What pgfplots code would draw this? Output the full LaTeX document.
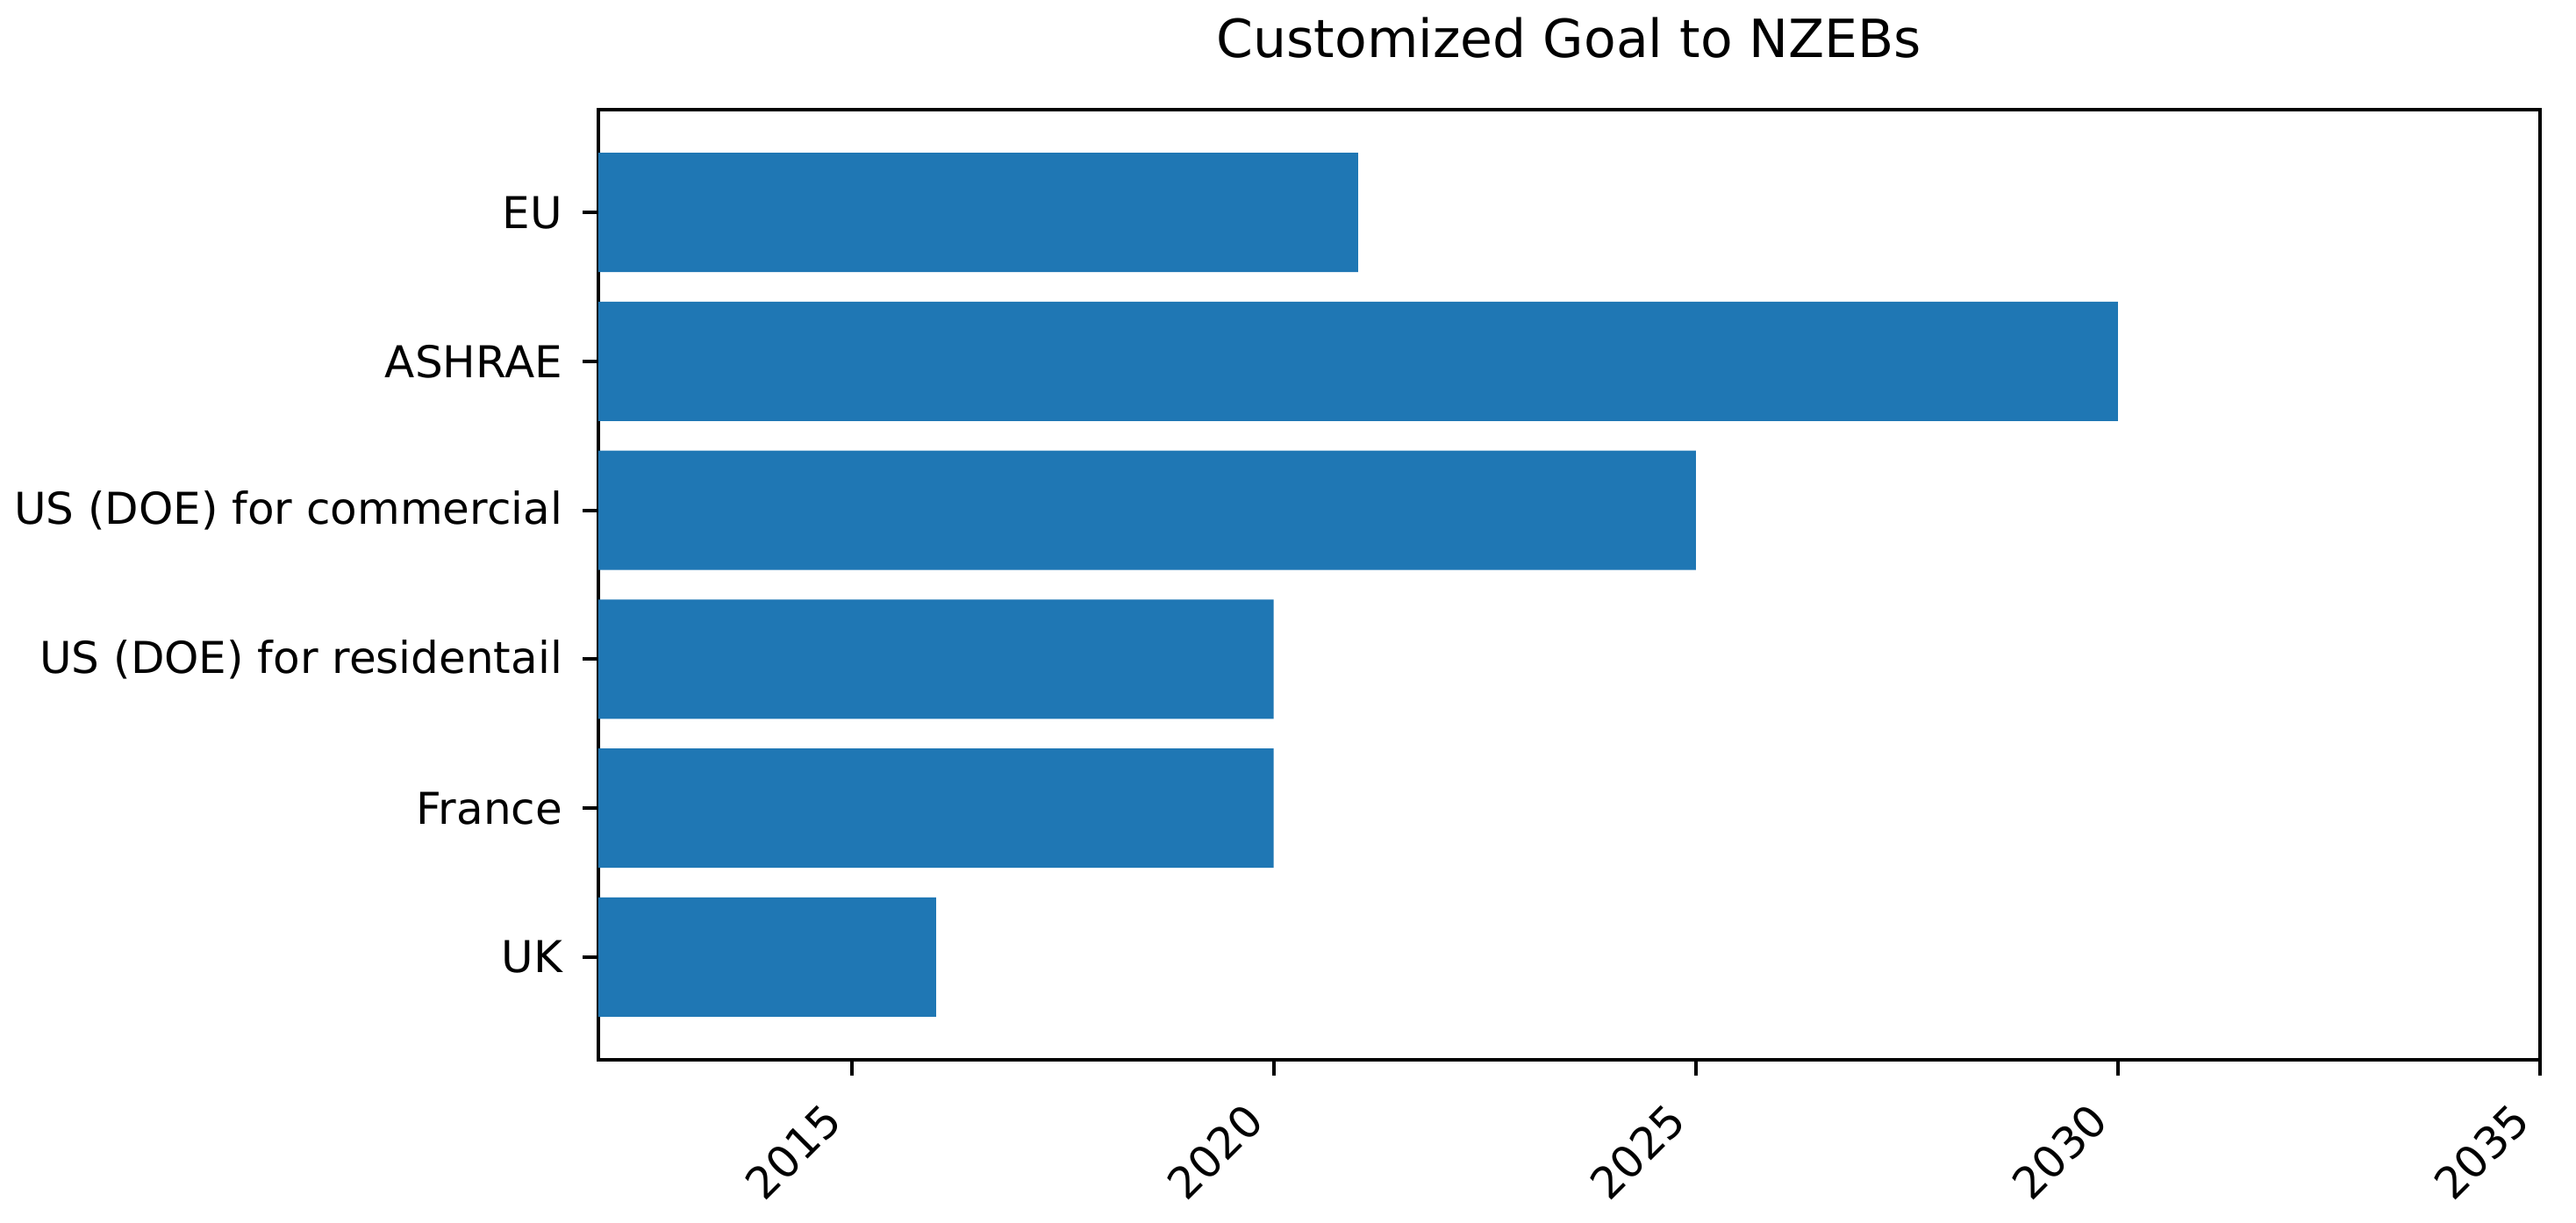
\documentclass[border=0pt]{standalone}
\usepackage{fontspec}
\setmainfont{DejaVu Sans}
\usepackage{pgfplots}
\usepackage{pgfplotstable}
\pgfplotsset{compat=1.18}
\definecolor{mplblue}{HTML}{1F77B4}
\pgfplotstableread{
pos year
0 2016
1 2020
2 2020
3 2025
4 2030
5 2021
}\goals
\begin{document}
\begin{tikzpicture}
\useasboundingbox (-136.4pt,-37.2pt) rectangle (450.8pt,241.6pt);
\begin{axis}[
  at={(0,0)}, anchor=south west,
  scale only axis, width=442.6pt, height=216.6pt,
  xmin=0, xmax=23, ymin=-0.69, ymax=5.69,
  xtick={3,8,13,18,23}, xticklabels={2015,2020,2025,2030,2035},
  ytick={0,1,2,3,4,5},
  yticklabels={UK,France,US (DOE) for residentail,US (DOE) for commercial,ASHRAE,EU},
  tick align=outside, major tick length=3.5pt,
  xtick pos=left, ytick pos=left,
  tick style={black, line width=0.8pt},
  axis line style={black, line width=0.8pt},
  xticklabel style={font=\fontsize{10}{12}\selectfont, xshift=-7pt, yshift=-5.5pt, rotate=45, anchor=north east, inner sep=0pt},
  yticklabel style={font=\fontsize{10}{12}\selectfont, anchor=east, inner sep=0pt, xshift=-4.5pt},
  title={Customized Goal to NZEBs},
  title style={at={(0.5,1)}, anchor=base, yshift=6pt, font=\fontsize{12}{14.4}\selectfont},
  clip=true,
]
\addplot[xbar, bar width=0.8, fill=mplblue, draw=none] table[x expr=\thisrow{year}-2012, y=pos] {\goals};
\end{axis}
\end{tikzpicture}
\end{document}
